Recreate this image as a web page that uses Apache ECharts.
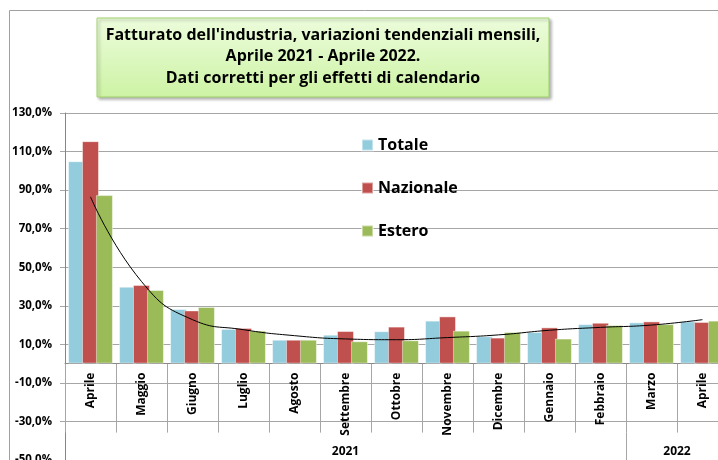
<!DOCTYPE html>
<html>
<head>
<meta charset="utf-8">
<script src="https://cdn.jsdelivr.net/npm/echarts@6/dist/echarts.min.js"></script>
<style>
  html, body { margin: 0; padding: 0; background: #fff; }
  #chart { width: 718px; height: 460px; }
</style>
</head>
<body>
<div id="chart"></div>
<script>
(function(){
  'use strict';
  var months = ['Aprile','Maggio','Giugno','Luglio','Agosto','Settembre','Ottobre','Novembre','Dicembre','Gennaio','Febbraio','Marzo','Aprile'];
  var years = ['2021','2022'];
  var yearSpans = [11, 2];
  var totale    = [105.0, 39.9, 28.3, 18.0, 12.4, 15.0, 16.8, 22.3, 14.2, 16.4, 20.5, 21.4, 21.9];
  var nazionale = [115.4, 40.8, 27.6, 18.5, 12.4, 16.9, 19.2, 24.5, 13.5, 18.8, 21.2, 21.9, 21.6];
  var estero    = [87.4, 38.2, 29.4, 17.1, 12.4, 11.6, 12.1, 17.1, 16.4, 13.0, 20.0, 20.5, 22.3];
  var tendenza  = [86.5, 42.6, 22.8, 17.6, 14.5, 12.8, 12.4, 13.5, 14.9, 17.3, 18.8, 20.0, 22.8];
  var titleLines = ["Fatturato dell'industria, variazioni tendenziali mensili,", 'Aprile 2021 - Aprile 2022.', 'Dati corretti per gli effetti di calendario'];

  var FONT = '"Open Sans", sans-serif';
  var GRID = '#a6a6a6';

  var chart = echarts.init(document.getElementById('chart'));
  var bar = function(name, data, color){
    return {
      name: name, type: 'bar', data: data,
      barGap: '-18%', barCategoryGap: '12%',
      itemStyle: { color: color, borderColor: 'rgba(255,255,255,0.45)', borderWidth: 1 }
    };
  };

  chart.setOption({
    animation: false,
    textStyle: { fontFamily: FONT },
    grid: { left: 65, top: 113, right: -10, bottom: 0, outerBoundsMode: 'none' },
    legend: {
      data: ['Totale','Nazionale','Estero'],
      orient: 'vertical', left: 356, top: 132,
      itemWidth: 11, itemHeight: 11, itemGap: 27,
      icon: 'rect',
      textStyle: { fontSize: 16, fontWeight: 'bold', color: '#000', fontFamily: FONT }
    },
    xAxis: {
      type: 'category', data: months, position: 'bottom',
      axisLine: { onZero: false, lineStyle: { color: '#868686' } },
      axisTick: { show: true, interval: 0, length: 69, lineStyle: { color: GRID } },
      axisLabel: { show: true, interval: 0, rotate: 90, margin: 9, fontSize: 12, fontWeight: 'bold', color: '#000' }
    },
    yAxis: {
      type: 'value', min: -50, max: 130, interval: 20,
      axisLine: { show: true, lineStyle: { color: '#868686' } },
      axisTick: { show: true, length: 5, lineStyle: { color: GRID } },
      axisLabel: {
        margin: 13, fontSize: 11.5, fontWeight: 'bold', color: '#000',
        formatter: function(v){ return v.toFixed(1).replace('.', ',') + '%'; }
      },
      splitLine: { lineStyle: { color: GRID, width: 1.2 } }
    },
    series: [
      bar('Totale', totale, '#93cddd'),
      bar('Nazionale', nazionale, '#c0504d'),
      bar('Estero', estero, '#9bbb59'),
      {
        name: 'Tendenza', type: 'line', data: tendenza, smooth: 0.5,
        symbol: 'none', z: 5,
        lineStyle: { color: '#000', width: 1 }
      }
    ]
  });

  // move the category axis (line, ticks, labels) up to the zero line
  var yZero = chart.convertToPixel({ yAxisIndex: 0 }, 0);
  var yBottom = chart.convertToPixel({ yAxisIndex: 0 }, -50);
  chart.setOption({ xAxis: { offset: yZero - yBottom } });

  // second level of the category axis (years) and frame
  var c0 = chart.convertToPixel({ xAxisIndex: 0 }, 0);
  var c1 = chart.convertToPixel({ xAxisIndex: 0 }, 1);
  var step = c1 - c0;
  var yTickEnd = yZero + 69;
  var elements = [];
  var start = 0;
  years.forEach(function(y, i){
    var x0 = c0 - step / 2 + start * step;
    var x1 = x0 + yearSpans[i] * step;
    elements.push({
      type: 'text', x: (x0 + x1) / 2, y: 452,
      style: { text: y, fill: '#000', font: 'bold 12px ' + FONT, align: 'center', verticalAlign: 'middle' }
    });
    elements.push({
      type: 'line', shape: { x1: Math.round(x1) + 0.5, y1: yTickEnd, x2: Math.round(x1) + 0.5, y2: yBottom + 5 },
      style: { stroke: GRID, lineWidth: 1 }
    });
    start += yearSpans[i];
  });

  elements.push({
    type: 'polyline', shape: { points: [[9.5, 470], [9.5, 10.5], [730, 10.5]] },
    style: { stroke: '#a0a0a0', lineWidth: 1, fill: null }
  });

  var box = { x: 97, y: 18, w: 452, h: 79 };
  elements.push({
    type: 'rect', shape: { x: box.x, y: box.y, width: box.w, height: box.h },
    style: {
      fill: new echarts.graphic.LinearGradient(0, 0, 0, 1, [
        { offset: 0, color: '#ecfcdc' }, { offset: 1, color: '#cdf3a4' }
      ]),
      stroke: '#a3d36d', lineWidth: 1,
      shadowBlur: 3, shadowOffsetX: 2, shadowOffsetY: 2, shadowColor: 'rgba(0,0,0,0.3)'
    }
  });
  titleLines.forEach(function(t, i){
    elements.push({
      type: 'text', x: box.x + box.w / 2, y: 35 + i * 21.5,
      style: { text: t, fill: '#000', font: 'bold 16px ' + FONT, align: 'center', verticalAlign: 'middle' }
    });
  });

  chart.setOption({ graphic: { elements: elements } });
})();
</script>
</body>
</html>
